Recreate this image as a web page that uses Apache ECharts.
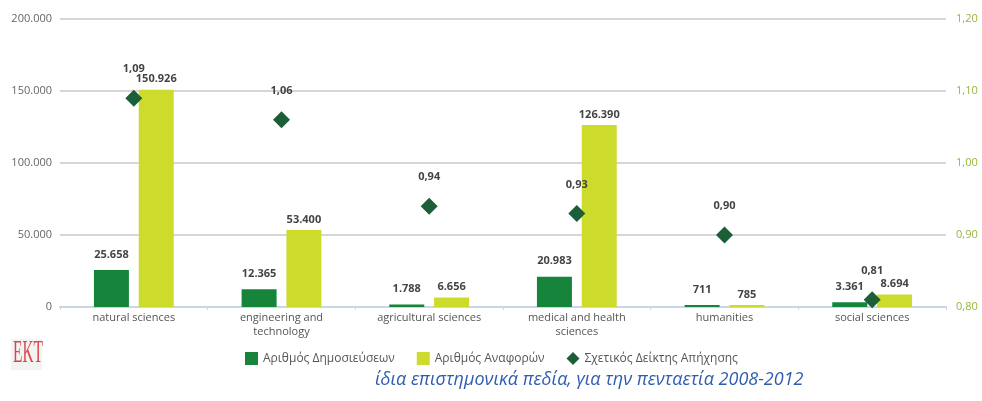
<!DOCTYPE html>
<html><head><meta charset="utf-8">
<script src="https://cdn.jsdelivr.net/npm/echarts@6/dist/echarts.min.js"></script>
<style>html,body{margin:0;padding:0;background:#fff}#c{width:982px;height:401px}</style>
</head><body><div id="c"></div>
<script>
const categories = ['natural sciences','engineering and\ntechnology','agricultural sciences','medical and health\nsciences','humanities','social sciences'];
const publications = [25658, 12365, 1788, 20983, 711, 3361];
const citations = [150926, 53400, 6656, 126390, 785, 8694];
const impactIndex = [1.09, 1.06, 0.94, 0.93, 0.90, 0.81];
const seriesNames = ['Αριθμός Δημοσιεύσεων','Αριθμός Αναφορών','Σχετικός Δείκτης Απήχησης'];
const subtitle = 'ίδια επιστημονικά πεδία, για την πενταετία 2008-2012';

function fmtThousands(v){ return String(Math.round(v)).replace(/\B(?=(\d{3})+(?!\d))/g,'.'); }
function fmtDec(v){ return v.toFixed(2).replace('.',','); }

const chart = echarts.init(document.getElementById('c'));
const font = 'Open Sans, Noto Sans, sans-serif';
chart.setOption({
  animation:false,
  textStyle:{fontFamily:font},
  grid:{left:60,right:36,top:19,bottom:94,containLabel:false,outerBoundsMode:'none'},
  legend:{
    top:347, left:240,
    itemWidth:13,itemHeight:13,itemGap:22,
    textStyle:{color:'#555',fontSize:12,fontFamily:font},
    data:[{name:seriesNames[0],icon:'rect'},{name:seriesNames[1],icon:'rect'},{name:seriesNames[2],icon:'diamond'}]
  },
  graphic:[
    {type:'text',left:375,top:371,style:{text:subtitle,fill:'#2f5cb0',font:'italic 18px "Open Sans", "Noto Sans", sans-serif'}},
    {type:'rect',left:11,top:339,shape:{width:31,height:31},style:{fill:'#f3f3f3'}},
    {type:'text',x:13,y:338,scaleX:0.48,style:{text:'EKT',fill:'#d84848',font:'32px "Liberation Serif", serif'}}
  ],
  xAxis:{
    type:'category',data:categories,
    axisLine:{lineStyle:{color:'#c9d6e6',width:2}},
    axisTick:{show:true,length:3,lineStyle:{color:'#c9d6e6'}},
    axisLabel:{color:'#555',fontSize:11,lineHeight:14,margin:4,interval:0}
  },
  yAxis:[
    {type:'value',min:0,max:200000,interval:50000,
     axisLabel:{color:'#666',fontSize:11,margin:8,formatter:fmtThousands},
     splitLine:{lineStyle:{color:'#d6d6d6',width:2}},
     axisLine:{show:false},axisTick:{show:false}},
    {type:'value',min:0.80,max:1.20,interval:0.10,
     axisLabel:{color:'#95b53a',fontSize:11,margin:10,formatter:fmtDec},
     splitLine:{show:false},axisLine:{show:false},axisTick:{show:false}}
  ],
  series:[
    {name:seriesNames[0],type:'bar',data:publications,barWidth:35,barGap:'28%',barMinHeight:2,
     itemStyle:{color:'#17843c'},
     label:{show:true,position:'top',distance:10,color:'#444',fontSize:11,fontWeight:'bold',formatter:p=>fmtThousands(p.value)}},
    {name:seriesNames[1],type:'bar',data:citations,barWidth:35,barGap:'28%',barMinHeight:2,
     itemStyle:{color:'#cddc2c'},
     label:{show:true,position:'top',distance:5,color:'#444',fontSize:11,fontWeight:'bold',formatter:p=>fmtThousands(p.value)}},
    {name:seriesNames[2],type:'scatter',yAxisIndex:1,data:impactIndex,symbol:'diamond',symbolSize:[17,17],
     itemStyle:{color:'#1c5e37',opacity:1},z:5,
     label:{show:true,position:'top',distance:15,color:'#444',fontSize:11,fontWeight:'bold',formatter:p=>fmtDec(p.value)}}
  ]
});
</script></body></html>
